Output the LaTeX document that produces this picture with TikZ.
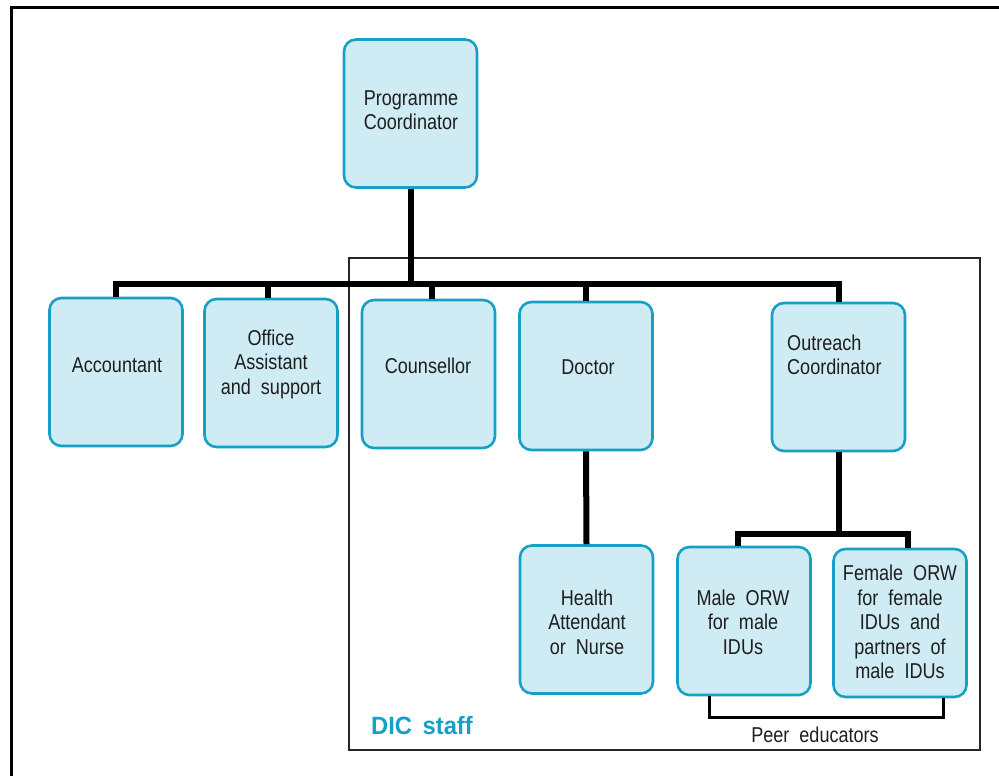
\documentclass[tikz,border=0pt]{standalone}
\usepackage{fontspec}
\setmainfont{Liberation Sans}[FakeStretch=0.84,WordSpace=2]
\newfontfamily\dicfont{Liberation Sans}[FakeStretch=0.95,WordSpace=1.6]
\definecolor{boxfill}{RGB}{207,235,243}
\definecolor{boxline}{RGB}{22,160,198}
\definecolor{txt}{RGB}{30,30,30}
\begin{document}
\begin{tikzpicture}[x=1pt,y=-1pt,
  box/.style={draw=boxline, fill=boxfill, line width=2.6pt, rounded corners=12pt,
              inner sep=0pt, minimum width=133pt, minimum height=148pt},
  lbl/.style={font=\fontsize{21.5}{24.5}\selectfont, text=txt, align=center, inner sep=0pt},
  conn/.style={line width=6pt, draw=black},
  brk/.style={line width=3pt, draw=black}]
\useasboundingbox (0,0) rectangle (999,776);

% outer frame (only its top and left edges fall on the page)
\draw[line width=3pt] (11,1000) -- (11,8) -- (1010,8);

% DIC staff frame
\node[draw=black!85, line width=2pt, minimum width=631pt, minimum height=492pt, inner sep=0pt]
  (dic) at (664.5,504) {};
\node[anchor=west, font=\dicfont\fontsize{25}{28}\selectfont\bfseries, text=boxline, inner sep=0pt]
  (dict) at (371,726) {DIC staff};

% boxes
\node[box] (pc)  at (410.5,113.5) {};
\node[box] (acc) at (116,372) {};
\node[box] (off) at (271,373) {};
\node[box] (cou) at (428.5,374) {};
\node[box] (doc) at (586,376) {};
\node[box] (out) at (838.5,377) {};
\node[box] (hea) at (586.5,619.5) {};
\node[box] (mal) at (744,621) {};
\node[box] (fem) at (900,623) {};

% box texts
\node[lbl] (pct)  at (411,110) {Programme\\Coordinator};
\node[lbl] (acct) at (117,365) {Accountant};
\node[lbl] (offt) at (271,364) {Office\\Assistant\\and support};
\node[lbl] (cout) at (428,366) {Counsellor};
\node[lbl] (doct) at (588,367) {Doctor};
\node[lbl, align=left, anchor=west] (outt) at (787,355) {Outreach\\Coordinator};
\node[lbl] (heat) at (587,622) {Health\\Attendant\\or Nurse};
\node[lbl] (malt) at (743,622) {Male ORW\\for male\\IDUs};
\node[lbl] (femt) at (900,622) {Female ORW\\for female\\IDUs and\\partners of\\male IDUs};

% connectors
\coordinate (barY) at (0,284);
\coordinate (orwY) at (0,534);
\draw[conn] (pc.south) -- (pc.south |- barY);
\draw[conn] (acc.north) -- (acc.north |- barY) -- (out.north |- barY) -- (out.north);
\draw[conn] ([xshift=-3pt]off.north) -- ([xshift=-3pt]off.north |- barY);
\draw[conn] ([xshift=3pt]cou.north) -- ([xshift=3pt]cou.north |- barY);
\draw[conn] (doc.north) -- (doc.north |- barY);
\draw[conn] (doc.south) -- (hea.north);
\draw[conn] (out.south) -- (out.south |- orwY);
\draw[conn] ([xshift=-6pt]mal.north) -- ([xshift=-6pt]mal.north |- orwY)
  -- ([xshift=8pt]fem.north |- orwY) -- ([xshift=8pt]fem.north);

% peer educators bracket
\coordinate (pl) at (709,717);
\coordinate (pr) at (943,717);
\draw[brk] ([xshift=-35pt]mal.south) -- (pl) -- (pr) -- ([xshift=43pt]fem.south);
\node[lbl] (peer) at (815,735) {Peer educators};
\end{tikzpicture}
\end{document}
